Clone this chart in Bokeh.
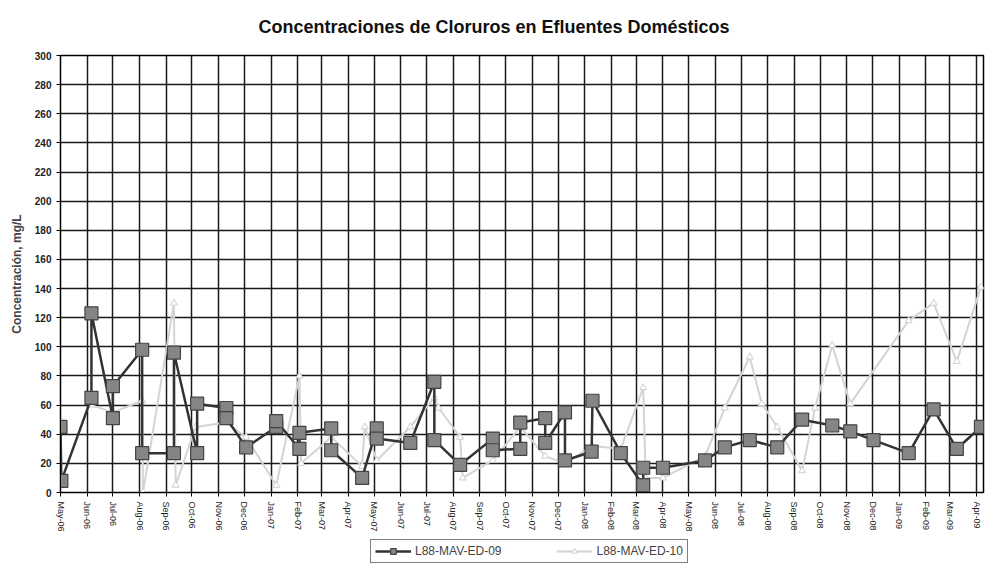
import pandas as pd
from bokeh.plotting import figure
from bokeh.layouts import column
from bokeh.models import (FixedTicker, MonthsTicker, DatetimeTickFormatter, Legend,
                          LegendItem, Range1d, ColumnDataSource)
from bokeh.embed import file_html
from bokeh.resources import INLINE

TITLE = "Concentraciones de Cloruros en Efluentes Domésticos"
Y_LABEL = "Concentración, mg/L"
SERIES_09 = "L88-MAV-ED-09"
SERIES_10 = "L88-MAV-ED-10"

dates_09 = ["2006-05-01", "2006-05-02", "2006-06-06", "2006-06-06", "2006-07-01", "2006-07-01",
            "2006-08-04", "2006-08-04", "2006-09-10", "2006-09-10", "2006-10-07", "2006-10-07",
            "2006-11-10", "2006-11-10", "2006-12-03", "2007-01-07", "2007-01-07", "2007-02-03",
            "2007-02-03", "2007-03-12", "2007-03-12", "2007-04-17", "2007-05-04", "2007-05-04",
            "2007-06-12", "2007-07-10", "2007-07-10", "2007-08-09", "2007-09-16", "2007-09-16",
            "2007-10-18", "2007-10-18", "2007-11-16", "2007-11-16", "2007-12-09", "2007-12-09",
            "2008-01-09", "2008-01-10", "2008-02-12", "2008-03-09", "2008-03-09", "2008-04-01",
            "2008-05-20", "2008-06-12", "2008-07-11", "2008-08-12", "2008-09-10", "2008-10-15",
            "2008-11-05", "2008-12-02", "2009-01-12", "2009-02-10", "2009-03-09", "2009-04-06"]
values_09 = [45, 8, 65, 123, 51, 73,
             98, 27, 27, 96, 27, 61,
             58, 51, 31, 45, 49, 30,
             41, 44, 29, 10, 44, 37,
             34, 76, 36, 19, 37, 29,
             30, 48, 51, 34, 55, 22,
             28, 63, 27, 5, 17, 17,
             22, 31, 36, 31, 50, 46,
             42, 36, 27, 57, 30, 45]

dates_10 = ["2006-06-06", "2006-07-01", "2006-08-04", "2006-08-05", "2006-09-10", "2006-09-12",
            "2006-10-05", "2006-11-10", "2006-12-03", "2007-01-07", "2007-02-03", "2007-02-05",
            "2007-03-12", "2007-04-17", "2007-04-20", "2007-05-04", "2007-06-12", "2007-07-10",
            "2007-07-15", "2007-08-09", "2007-08-12", "2007-09-16", "2007-10-18", "2007-11-16",
            "2007-12-09", "2008-01-10", "2008-02-12", "2008-03-09", "2008-03-12", "2008-04-01",
            "2008-05-20", "2008-06-12", "2008-07-11", "2008-07-25", "2008-08-12", "2008-09-10",
            "2008-09-25", "2008-10-15", "2008-11-05", "2009-01-12", "2009-02-10", "2009-03-09",
            "2009-04-06"]
values_10 = [60, 55, 63, 0, 130, 5,
             45, 48, 38, 5, 80, 20,
             38, 18, 45, 22, 45, 65,
             58, 38, 10, 22, 45, 25,
             20, 32, 30, 72, 10, 10,
             25, 58, 93, 61, 45, 15,
             58, 101, 61, 118, 130, 90,
             141]

y_ticks = list(range(0, 301, 20))

src09 = ColumnDataSource(dict(x=pd.to_datetime(dates_09), y=values_09))
src10 = ColumnDataSource(dict(x=pd.to_datetime(dates_10), y=values_10))

FONT = "Liberation Sans"

# styles
C09_LINE = dict(line_color="#333333", line_width=2.5)
C09_MARK = dict(marker="square", size=13, fill_color="#858585", line_color="#444444", line_width=1.2)
C10_LINE = dict(line_color="#d4d4d4", line_width=2)
C10_MARK = dict(marker="triangle", size=7, fill_color="white", line_color="#cfcfcf", line_width=1)

p = figure(width=992, height=538, x_axis_type="datetime", output_backend="svg",
           toolbar_location=None, title=TITLE,
           x_range=Range1d(pd.Timestamp("2006-05-01"), pd.Timestamp("2009-04-09")),
           y_range=Range1d(0, 300),
           min_border_left=60, min_border_right=9, min_border_top=55, min_border_bottom=46)

p.title.text_font = FONT
p.title.text_font_size = "18px"
p.title.text_font_style = "bold"
p.title.align = "left"
p.title.offset = 198
p.title.text_color = "#111111"
p.title.vertical_align = "top"
p.title.standoff = 33

p.outline_line_color = "black"
p.outline_line_width = 1.5

p.yaxis.ticker = FixedTicker(ticks=y_ticks)
p.xaxis.ticker = MonthsTicker(months=list(range(12)))
fmt = "%b-%y"
p.xaxis.formatter = DatetimeTickFormatter(months=fmt, days=fmt, years=fmt, hours=fmt,
                                          minutes=fmt, seconds=fmt, milliseconds=fmt,
                                          microseconds=fmt, hourmin=fmt, minsec=fmt)
p.xaxis.major_label_orientation = "vertical"
p.yaxis.axis_label = Y_LABEL
for ax in (p.xaxis, p.yaxis):
    ax.major_label_text_font = FONT
    ax.major_label_text_color = "#222222"
    ax.axis_line_color = "black"
    ax.major_tick_line_color = "black"
    ax.minor_tick_line_color = None
    ax.major_tick_out = 4
    ax.major_tick_in = 0
p.xaxis.major_label_text_font_size = "9px"
p.yaxis.major_label_text_font_size = "10px"
p.yaxis.major_label_text_font_style = "bold"
p.yaxis.axis_label_text_font = FONT
p.yaxis.axis_label_text_font_size = "12px"
p.yaxis.axis_label_text_font_style = "bold"
p.yaxis.axis_label_standoff = 8

p.xgrid.grid_line_color = "#1a1a1a"
p.ygrid.grid_line_color = "#1a1a1a"
p.xgrid.grid_line_width = 1.5
p.ygrid.grid_line_width = 1.5

p.line("x", "y", source=src10, **C10_LINE)
p.scatter("x", "y", source=src10, **C10_MARK)
p.line("x", "y", source=src09, **C09_LINE)
p.scatter("x", "y", source=src09, **C09_MARK)

# legend strip below the chart (its ranges keep the data out of view; only the legend shows)
lf = figure(width=992, height=30, output_backend="svg", toolbar_location=None,
            x_axis_type=None, y_axis_type=None, x_range=Range1d(0, 1), y_range=Range1d(0, 1),
            min_border=0, outline_line_color=None)
lf.grid.visible = False
ll09 = lf.line("x", "y", source=src09, **C09_LINE)
lm09 = lf.scatter("x", "y", source=src09, **C09_MARK)
ll10 = lf.line("x", "y", source=src10, **C10_LINE)
lm10 = lf.scatter("x", "y", source=src10, **C10_MARK)

legend = Legend(items=[LegendItem(label=SERIES_09, renderers=[ll09, lm09]),
                       LegendItem(label=SERIES_10, renderers=[ll10, lm10])],
                orientation="horizontal", location=(310, 5),
                label_text_font=FONT, label_text_font_size="12px",
                border_line_color="black", border_line_width=1.2,
                glyph_width=36, glyph_height=14, spacing=55, padding=4, margin=0,
                label_standoff=4, background_fill_alpha=1)
lf.add_layout(legend, "center")

open("out.html", "w").write(file_html(column(p, lf, spacing=0), INLINE))
